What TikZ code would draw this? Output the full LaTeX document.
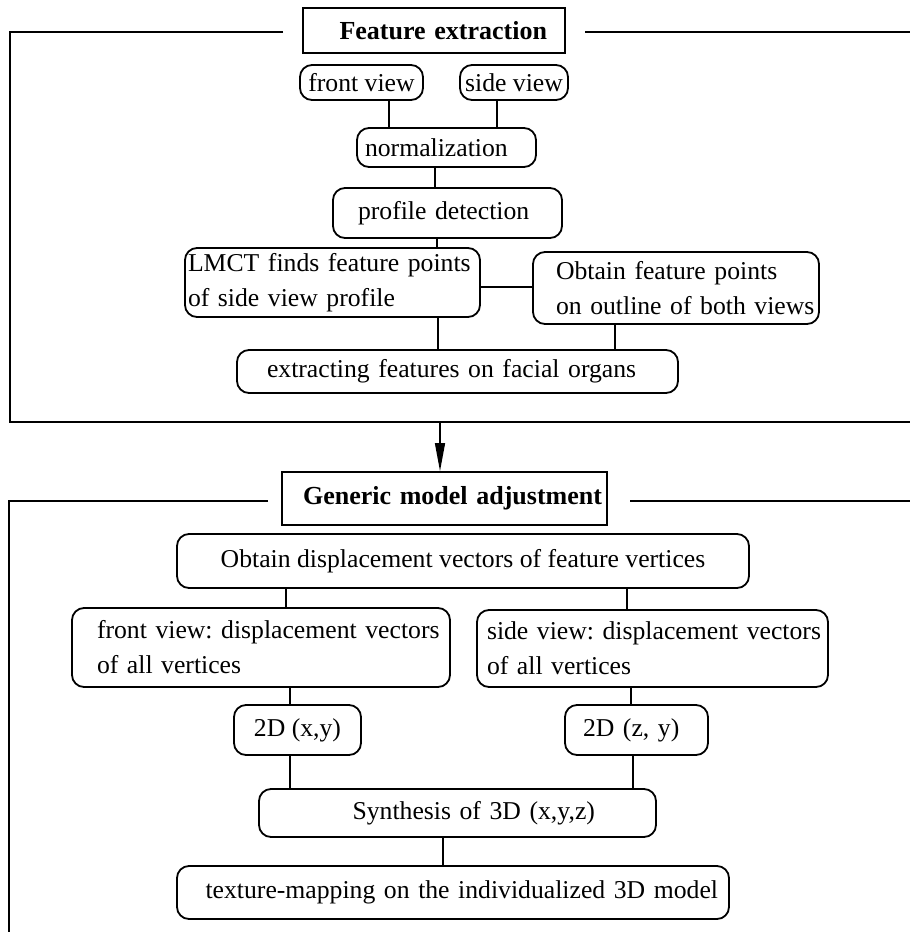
\documentclass[tikz,border=0pt]{standalone}
\usepackage{fontspec}
\setmainfont{Liberation Serif}
\usetikzlibrary{arrows.meta}
\newcommand\diagfont{\fontsize{25.7}{35}\selectfont\frenchspacing}
\newcommand\titlefont{\fontsize{26}{35}\selectfont\bfseries}

\begin{document}
\begin{tikzpicture}[x=1pt,y=-1pt,
  every node/.style={font=\diagfont},
  rbox/.style={draw, line width=1.8pt, rounded corners=12pt, inner sep=0pt},
  tbox/.style={draw, line width=1.8pt, inner sep=0pt, font=\titlefont},
  link/.style={line width=1.4pt},
  frame/.style={line width=2pt},
]
\useasboundingbox (0,0) rectangle (910,932);

% ---------- Feature extraction ----------
\node[tbox, minimum height=45pt, text width=226pt, inner xsep=18pt, align=right]
  (fet) at (434,30.5) {Feature extraction};

\node[rbox, minimum width=123pt, minimum height=35pt] (front) at (361.5,82.5) {front view};
\node[rbox, minimum width=108pt, minimum height=35pt] (side) at (514,82.5) {side view};
\node[rbox, minimum height=39pt, text width=163pt, inner xsep=8pt, align=left]
  (norm) at (446.5,147.5) {normalization};
\node[rbox, minimum height=50pt, text width=179pt, inner xsep=25pt, align=left]
  (prof) at (447.5,213) {profile detection};
\node[rbox, minimum height=69pt, text width=289pt, inner xsep=3pt, align=left]
  (lmct) at (332.5,282.5) {\mbox{LMCT finds feature points}\\\mbox{of side view profile}};
\node[rbox, minimum height=72pt, text width=276pt, inner xsep=5pt, align=left]
  (obt) at (676,288) {\mbox{\hspace*{18pt}Obtain feature points}\\\mbox{\hspace*{18pt}on outline of both views}};
\node[rbox, minimum height=43pt, text width=381pt, inner xsep=30pt, align=left]
  (ext) at (457.5,371.5) {extracting features on facial organs};

% vertical positions of the connectors
\coordinate (k1) at (389,0);
\coordinate (k2) at (497,0);
\coordinate (k3) at (435,0);
\coordinate (k4) at (437,0);
\coordinate (k6) at (438,0);
\coordinate (k7) at (615,0);
\coordinate (h1) at (0,287);

\draw[link] (front.south -| k1) -- (norm.north -| k1);
\draw[link] (side.south -| k2) -- (norm.north -| k2);
\draw[link] (norm.south -| k3) -- (prof.north -| k3);
\draw[link] (prof.south -| k4) -- (lmct.north -| k4);
\draw[link] (lmct.east |- h1) -- (obt.west |- h1);
\draw[link] (lmct.south -| k6) -- (ext.north -| k6);
\draw[link] (obt.south -| k7) -- (ext.north -| k7);

% frame of the first stage
\coordinate (f1l) at (283,32);
\coordinate (f1tl) at (10,32);
\coordinate (f1bl) at (10,422);
\coordinate (f1br) at (910,422);
\coordinate (f1r) at (585,32);
\coordinate (f1tr) at (910,32);
\draw[frame] (f1l) -- (f1tl) -- (f1bl) -- (f1br);
\draw[frame] (f1r) -- (f1tr);

% ---------- Generic model adjustment ----------
\node[tbox, minimum height=53pt, text width=315pt, inner xsep=5pt, align=right]
  (gma) at (444.5,498.5) {Generic model adjustment};

\coordinate (k8) at (440,0);
\draw[link, -{Triangle[length=28pt,width=10pt]}] (f1bl -| k8) -- (gma.north -| k8);

\node[rbox, minimum width=572pt, minimum height=54pt] (odv) at (463,561)
  {Obtain displacement vectors of feature vertices};
\node[rbox, minimum height=79pt, text width=360pt, inner xsep=9pt, align=left]
  (fv) at (261,647.5) {\mbox{\hspace*{16pt}front view: displacement vectors}\\\mbox{\hspace*{16pt}of all vertices}};
\node[rbox, minimum height=77pt, text width=339pt, inner xsep=6pt, align=left]
  (sv) at (652.5,648.5) {\mbox{\hspace*{4pt}side view: displacement vectors}\\\mbox{\hspace*{4pt}of all vertices}};
\node[rbox, minimum width=127pt, minimum height=50pt] (xy) at (297.5,730) {2D (x,y)};
\node[rbox, minimum height=50pt, text width=107pt, inner xsep=18pt, align=left]
  (zy) at (636.5,730) {2D (z, y)};
\node[rbox, minimum height=48pt, text width=275pt, inner xsep=61pt, align=right]
  (syn) at (457.5,813) {Synthesis of 3D (x,y,z)};
\node[rbox, minimum height=53pt, text width=530pt, inner xsep=11pt, align=right]
  (tex) at (453,892.5) {texture-mapping on the individualized 3D model};

\coordinate (k9) at (286,0);
\coordinate (k10) at (627,0);
\coordinate (k11) at (290,0);
\coordinate (k12) at (631,0);
\coordinate (k14) at (633,0);
\coordinate (k15) at (443,0);

\draw[link] (odv.south -| k9) -- (fv.north -| k9);
\draw[link] (odv.south -| k10) -- (sv.north -| k10);
\draw[link] (fv.south -| k11) -- (xy.north -| k11);
\draw[link] (sv.south -| k12) -- (zy.north -| k12);
\draw[link] (xy.south -| k11) -- (syn.north -| k11);
\draw[link] (zy.south -| k14) -- (syn.north -| k14);
\draw[link] (syn.south -| k15) -- (tex.north -| k15);

% frame of the second stage
\coordinate (f2l) at (268,501);
\coordinate (f2tl) at (9,501);
\coordinate (f2bl) at (9,932);
\coordinate (f2r) at (630,501);
\coordinate (f2tr) at (910,501);
\draw[frame] (f2l) -- (f2tl) -- (f2bl);
\draw[frame] (f2r) -- (f2tr);
\end{tikzpicture}
\end{document}
